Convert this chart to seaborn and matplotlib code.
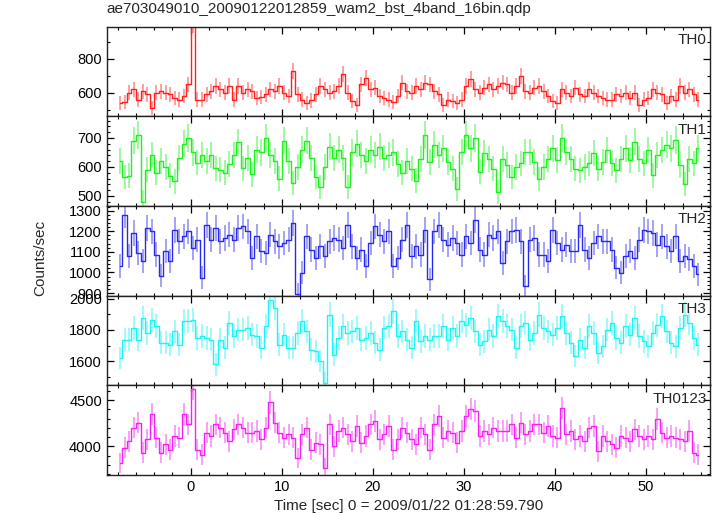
import numpy as np
import matplotlib
matplotlib.use("Agg")
import matplotlib.pyplot as plt
import seaborn as sns
from matplotlib.ticker import MultipleLocator, FixedLocator

# 0.5 s bins, start of first bin at -8 s
t_start = -8.0
bin_size = 0.5

th0 = [540, 545, 600, 620, 560, 610, 590, 510, 600, 610, 600, 590, 570, 560, 580, 650,
       1010, 560, 560, 590, 610, 640, 620, 600, 640, 560, 640, 600, 620, 610, 570, 575,
       590, 620, 610, 640, 600, 580, 730, 590, 560, 540, 555, 590, 640, 620, 600, 610,
       640, 710, 600, 550, 530, 650, 690, 620, 630, 580, 570, 560, 545, 580, 660, 610,
       600, 640, 620, 660, 650, 610, 590, 530, 560, 550, 540, 560, 640, 680, 620, 600,
       630, 650, 620, 640, 660, 650, 600, 640, 700, 610, 600, 630, 640, 610, 580, 550,
       540, 620, 600, 580, 630, 590, 580, 620, 600, 580, 570, 560, 560, 590, 580, 600,
       570, 600, 530, 560, 570, 620, 600, 590, 540, 580, 560, 640, 600, 620, 590, 560]

th1 = [620, 565, 570, 690, 710, 480, 590, 640, 580, 620, 600, 570, 550, 630, 680, 700,
       650, 615, 640, 620, 640, 595, 590, 580, 610, 640, 685, 595, 630, 575, 660, 650,
       700, 640, 620, 560, 690, 620, 545, 600, 660, 690, 630, 565, 530, 600, 670, 630,
       660, 630, 530, 650, 680, 640, 620, 660, 640, 670, 630, 640, 650, 610, 580, 620,
       594, 553, 629, 710, 617, 676, 641, 664, 617, 594, 524, 652, 710, 664, 700, 583,
       647, 629, 594, 513, 629, 606, 565, 600, 612, 652, 652, 617, 559, 600, 629, 664,
       623, 700, 652, 629, 594, 588, 600, 612, 647, 594, 617, 658, 612, 588, 629, 664,
       623, 687, 629, 612, 658, 571, 641, 658, 676, 664, 693, 606, 542, 629, 612, 664]

th2 = [1030, 1280, 1080, 1191, 1095, 1055, 1215, 1199, 1087, 983, 1103, 1055, 1207, 1151, 1175, 1199,
       1119, 1159, 975, 1231, 1159, 1215, 1151, 1167, 1183, 1159, 1215, 1223, 1199, 1071, 1175, 1103,
       1095, 1183, 1151, 1127, 1143, 1159, 1239, 895, 999, 1175, 1111, 1071, 1127, 1079, 1151, 1167,
       1159, 1119, 1231, 1127, 1071, 1111, 1031, 1143, 1223, 1183, 1151, 1199, 1031, 1071, 1159, 1231,
       1079, 1127, 1087, 1207, 967, 1199, 1231, 1159, 1135, 1167, 1143, 1087, 1175, 1143, 1255, 1111,
       1087, 1183, 1167, 1199, 1047, 1151, 1199, 1207, 1151, 934, 1159, 1167, 1087, 1087, 1055, 1207,
       1143, 1111, 1135, 1103, 1103, 1231, 1111, 1071, 1143, 1175, 1151, 1151, 1111, 1023, 999, 1079,
       1103, 1071, 1159, 1207, 1199, 1191, 1135, 1175, 1127, 1103, 1175, 1055, 1079, 1063, 1031, 991]

th3 = [1621, 1738, 1738, 1813, 1738, 1877, 1781, 1866, 1823, 1717, 1717, 1706, 1791, 1706, 1855, 1855,
       1866, 1749, 1760, 1749, 1738, 1579, 1738, 1685, 1845, 1760, 1802, 1802, 1813, 1770, 1760, 1685,
       1823, 1994, 1940, 1706, 1770, 1685, 1685, 1781, 1855, 1791, 1674, 1664, 1600, 1462, 1898, 1642,
       1749, 1823, 1781, 1791, 1813, 1738, 1749, 1781, 1717, 1674, 1813, 1823, 1919, 1760, 1791, 1738,
       1685, 1855, 1728, 1760, 1738, 1760, 1760, 1823, 1738, 1813, 1760, 1855, 1834, 1877, 1791, 1706,
       1728, 1802, 1760, 1887, 1855, 1823, 1802, 1685, 1823, 1845, 1738, 1781, 1898, 1813, 1791, 1770,
       1813, 1887, 1781, 1717, 1632, 1738, 1685, 1823, 1781, 1653, 1696, 1802, 1845, 1749, 1717, 1823,
       1770, 1877, 1760, 1728, 1696, 1781, 1834, 1887, 1791, 1717, 1696, 1813, 1898, 1845, 1749, 1706]

th0123 = [3822, 3986, 4058, 4203, 4257, 3931, 4076, 4348, 4094, 3931, 4022, 3967, 4112, 4094, 4348, 4239,
          4620, 3967, 3913, 4149, 4112, 4239, 4203, 4149, 4058, 4185, 4239, 4203, 4149, 4149, 4167, 4076,
          4203, 4475, 4257, 4149, 4094, 4130, 4094, 3877, 4130, 4203, 3967, 4040, 4022, 3768, 4239, 4004,
          4167, 4203, 4130, 4058, 4221, 4040, 4112, 4239, 4275, 4076, 4130, 4221, 3967, 4076, 4203, 4149,
          4076, 4022, 4203, 4130, 3967, 4239, 4330, 4094, 4167, 4149, 4040, 4167, 4330, 4402, 4384, 4112,
          4167, 4130, 4203, 4167, 4167, 4167, 4239, 4094, 4257, 4130, 4167, 4239, 4239, 4149, 4221, 4112,
          4094, 4420, 4130, 4167, 4076, 4112, 4058, 4203, 4221, 3949, 4112, 4058, 4022, 3986, 4112, 4094,
          4058, 4185, 4112, 4076, 4112, 4076, 4293, 4149, 4094, 4112, 4094, 4076, 4058, 4167, 3931, 3913]

bands = ["TH0", "TH1", "TH2", "TH3", "TH0123"]
colors = ["#ff2020", "#22ee22", "#2a2aee", "#22f2f2", "#f522f5"]
ylims = [(460, 990), (465, 774), (887, 1322), (1445, 2019), (3692, 4660)]
major_ticks = [[600, 800], [500, 600, 700], [900, 1000, 1100, 1200, 1300],
               [1600, 1800, 2000], [4000, 4500]]
minor_step = [100, 20, 20, 100, 100]

sns.set_style("ticks")
plt.rcParams['font.family'] = ['Liberation Sans', 'DejaVu Sans']

fig, axes = plt.subplots(5, 1, figsize=(7.17, 5.16), dpi=100, sharex=True)
fig.subplots_adjust(left=0.149, right=0.990, top=0.948, bottom=0.0795, hspace=0)

series = [th0, th1, th2, th3, th0123]
for ax, y, c, name, yl, mt, ms in zip(axes, series, colors, bands, ylims, major_ticks, minor_step):
    y = np.array(y, dtype=float)
    t = t_start + bin_size * (np.arange(len(y)) + 0.5)
    err = np.sqrt(3.2 * y)
    ax.vlines(t, y - err, y + err, color=c, alpha=0.5, lw=1.2)
    sns.lineplot(x=t, y=y, ax=ax, color=c, lw=1.0, drawstyle="steps-mid")
    ax.set_ylim(*yl)
    ax.set_xlim(-9.2, 57.0)
    ax.yaxis.set_major_locator(FixedLocator(mt))
    ax.yaxis.set_minor_locator(MultipleLocator(ms))
    ax.xaxis.set_major_locator(MultipleLocator(10))
    ax.xaxis.set_minor_locator(MultipleLocator(2))
    ax.tick_params(which="both", direction="in", top=True, right=True, labelsize=10.5, colors="black")
    ax.tick_params(which="major", length=5, width=0.9)
    ax.tick_params(which="minor", length=2.5, width=0.8)
    for s in ax.spines.values():
        s.set_linewidth(1.0)
        s.set_color("#222222")
    ax.set_ylabel("")
    ax.text(0.995, 0.93, name, transform=ax.transAxes, ha="right", va="top", fontsize=11)

axes[-1].set_xlabel("Time [sec] 0 = 2009/01/22 01:28:59.790", fontsize=11, labelpad=4)
fig.text(0.056, 0.5, "Counts/sec", rotation=90, ha="center", va="center", fontsize=11)
fig.text(0.149, 0.983, "ae703049010_20090122012859_wam2_bst_4band_16bin.qdp",
         ha="left", va="center", fontsize=11)

fig.savefig("out.png", dpi=100)
